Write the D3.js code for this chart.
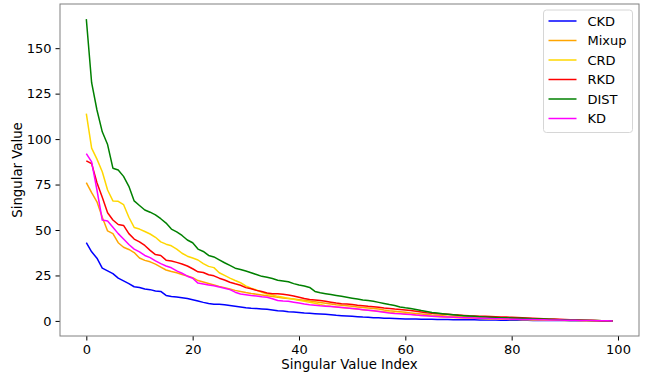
<!DOCTYPE html>
<html>
<head>
  <meta charset="utf-8">
  <title>Singular Values</title>
  <script src="https://d3js.org/d3.v7.min.js"></script>
</head>
<style>
  body { margin: 0; background: #fff; }
  svg text { font-family: "DejaVu Sans", sans-serif; fill: #000; }
  .axis path.domain { display: none; }
  .axis .tick line { stroke: #000; }
</style>
<body>
  <svg id="chart"></svg>
  <script>
    // singular values, index 0..99
    const ckd = [43,38,34.5,29,27.5,26,23.5,22,20.5,18.8,18.4,17.6,17.2,16.5,16.2,14,13.4,13.2,12.8,12.3,
      11.6,10.9,10.2,9.6,9.2,9.1,8.9,8.5,8.1,7.7,7.3,7.0,6.8,6.6,6.4,6.0,5.6,5.4,5.1,4.9,
      4.6,4.3,4.2,4.0,3.8,3.6,3.4,3.1,2.9,2.7,2.5,2.3,2.1,2.0,1.8,1.7,1.5,1.4,1.3,1.2,
      1.1,1.05,1.0,0.95,0.9,0.85,0.8,0.75,0.72,0.7,0.67,0.64,0.6,0.57,0.54,0.5,0.48,0.45,0.42,0.4,
      0.37,0.35,0.32,0.3,0.28,0.26,0.24,0.22,0.2,0.18,0.16,0.14,0.12,0.1,0.08,0.07,0.05,0.04,0.02,0];
    const mixup = [76,70.5,65.5,57,49.5,48,43,40.5,39.3,37.6,34.6,33.3,32.5,31.2,29.6,28,27.2,26.5,25.5,24.7,
      23.8,22.2,21.4,20.6,19.8,19.0,18.3,17.6,16.8,16.2,15.6,15.1,14.7,14.3,13.9,13.4,13.0,12.6,12.3,12.0,
      11.7,11.3,10.9,10.5,10.1,9.7,9.3,8.9,8.6,8.3,8.0,7.7,7.4,7.1,6.8,6.5,6.0,5.6,5.3,5.0,
      4.7,4.4,4.1,3.8,3.5,3.2,3.0,2.8,2.6,2.4,2.25,2.1,1.95,1.8,1.7,1.6,1.5,1.4,1.3,1.2,
      1.1,1.0,0.92,0.85,0.78,0.71,0.64,0.58,0.52,0.46,0.4,0.35,0.3,0.25,0.2,0.16,0.12,0.08,0.04,0];
    const crd = [114,95,89,82,72,66,65.8,64,57,51.4,50.5,49.2,47.8,46,43.5,42.2,41.3,39.5,37.2,35.6,
      34.6,33.5,31.5,30,29.3,26.5,25,23.5,22.2,21,19.2,18,17,15.8,14.8,14.2,13.5,13,12.4,11.9,
      11.3,10.8,10.2,9.7,9.0,8.4,8.0,7.7,7.4,7.1,6.8,6.5,6.2,5.9,5.6,5.3,5.0,4.7,4.4,4.2,
      3.9,3.6,3.3,3.0,2.8,2.6,2.4,2.2,2.05,1.9,1.75,1.6,1.5,1.4,1.3,1.2,1.1,1.0,0.92,0.85,
      0.78,0.72,0.66,0.6,0.55,0.5,0.45,0.4,0.36,0.32,0.28,0.24,0.2,0.17,0.14,0.11,0.08,0.05,0.02,0];
    const rkd = [88,86.5,76,68,59.5,55.5,53,52.5,48,45,43.5,41.5,38.8,36.5,36,33.4,33,32.2,31.3,30.2,
      28.7,27,26.6,25.4,24.8,23.5,22.5,21.3,20.4,19.6,18.3,17.7,16.8,16.2,15.4,15.0,14.9,14.6,14.2,13.7,
      13.0,12.3,11.8,11.5,11.2,10.8,10.3,9.8,9.5,9.3,9.0,8.6,8.3,8.0,7.8,7.5,7.1,6.8,6.5,6.3,
      6.0,5.7,5.3,4.9,4.5,4.2,4.0,3.8,3.6,3.4,3.2,3.0,2.8,2.7,2.6,2.5,2.4,2.3,2.2,2.1,
      2.0,1.85,1.7,1.55,1.4,1.3,1.2,1.1,1.0,0.9,0.8,0.7,0.6,0.5,0.4,0.3,0.22,0.14,0.07,0];
    const dist = [166,131,116,104,97,84,83,79.5,74,66,63.5,61,59.8,58.3,56.2,53.8,50.5,49,47,44.5,
      43,39.5,38.2,36,35.2,33.6,32,30.5,29,28.3,27.4,26.5,25.5,24.5,24,23.3,22.4,22,21.5,20.5,
      19.7,19.2,18.4,16.2,15.5,15,14.5,14,13.5,13,12.5,12,11.5,11.2,10.8,10.2,9.6,9.0,8.5,7.7,
      7.2,6.8,6.3,5.7,5.2,4.6,4.3,4.0,3.7,3.4,3.1,2.9,2.7,2.5,2.35,2.2,2.05,1.9,1.8,1.7,
      1.6,1.5,1.4,1.3,1.2,1.1,1.0,0.9,0.8,0.7,0.6,0.52,0.44,0.37,0.3,0.23,0.16,0.1,0.05,0];
    const kd = [92,87.5,72,55.5,55,51.5,48,45,42,39.5,38,36,34.8,33,31.5,30.2,29.2,27.5,26.2,24.6,
      23.5,20.8,20.3,19.8,19.3,18.6,18.0,17.2,15.8,14.8,14.4,14.0,13.7,13.3,13.0,12.2,11.2,10.9,10.8,10.3,
      9.8,9.3,8.9,8.6,8.3,8.1,7.9,7.7,7.4,7.1,6.8,6.5,6.2,5.9,5.6,5.2,4.8,4.4,4.1,3.9,
      3.7,3.5,3.2,3.0,2.8,2.6,2.45,2.3,2.15,2.0,1.9,1.8,1.7,1.6,1.5,1.4,1.3,1.2,1.12,1.05,
      0.98,0.9,0.84,0.78,0.72,0.66,0.6,0.55,0.5,0.45,0.4,0.35,0.3,0.25,0.2,0.16,0.12,0.08,0.04,0];

    const names = ["CKD", "Mixup", "CRD", "RKD", "DIST", "KD"];
    const colors = ["#0000ff", "#ffa500", "#ffd700", "#ff0000", "#008000", "#ff00ff"];
    const xTicks = [0, 20, 40, 60, 80, 100];
    const yTicks = [0, 25, 50, 75, 100, 125, 150];

    const series = [ckd, mixup, crd, rkd, dist, kd];

    const W = 647, H = 374;
    const m = { left: 60, right: 639, top: 4, bottom: 336 };

    const svg = d3.select("#chart").attr("width", W).attr("height", H);

    const x = d3.scaleLinear().domain([-4.95, 103.95]).range([m.left, m.right]);
    const yMax = d3.max(series, s => d3.max(s));
    const pad = yMax * 0.05;
    const y = d3.scaleLinear().domain([-pad, yMax + pad]).range([m.bottom, m.top]);

    // lines
    const line = d3.line().x((d, i) => x(i)).y(d => y(d));
    svg.append("g").selectAll("path")
      .data(series)
      .enter().append("path")
      .attr("d", line)
      .attr("fill", "none")
      .attr("stroke", (d, i) => colors[i])
      .attr("stroke-width", 1.5)
      .attr("stroke-linejoin", "round");

    // axes
    svg.append("g")
      .attr("class", "axis")
      .attr("transform", "translate(0," + m.bottom + ")")
      .call(d3.axisBottom(x).tickValues(xTicks).tickSize(4.5).tickPadding(4))
      .selectAll("text").style("font-size", "13px");
    svg.append("g")
      .attr("class", "axis")
      .attr("transform", "translate(" + m.left + ",0)")
      .call(d3.axisLeft(y).tickValues(yTicks).tickSize(4.5).tickPadding(4))
      .selectAll("text").style("font-size", "13px");

    // frame
    svg.append("rect")
      .attr("x", m.left).attr("y", m.top)
      .attr("width", m.right - m.left).attr("height", m.bottom - m.top)
      .attr("fill", "none").attr("stroke", "#808080").attr("stroke-width", 1);

    svg.append("text")
      .attr("x", (m.left + m.right) / 2).attr("y", 369)
      .attr("text-anchor", "middle").style("font-size", "13.3px")
      .text("Singular Value Index");
    svg.append("text")
      .attr("transform", "translate(22," + (m.top + m.bottom) / 2 + ") rotate(-90)")
      .attr("text-anchor", "middle").style("font-size", "13.3px")
      .text("Singular Value");

    // legend
    const lg = svg.append("g").attr("transform", "translate(543.5,10)");
    lg.append("rect")
      .attr("width", 89).attr("height", 122.5)
      .attr("rx", 3)
      .attr("fill", "#fff").attr("fill-opacity", 0.8)
      .attr("stroke", "#d6d6d6");
    const item = lg.selectAll(".legend")
      .data(names)
      .enter().append("g")
      .attr("class", "legend")
      .attr("transform", (d, i) => "translate(0," + (11 + i * 19.5) + ")");
    item.append("line")
      .attr("x1", 5).attr("x2", 33)
      .attr("stroke", (d, i) => colors[i])
      .attr("stroke-width", 1.5);
    item.append("text")
      .attr("x", 44).attr("dy", "0.36em")
      .style("font-size", "13px")
      .text(d => d);
  </script>
</body>
</html>
